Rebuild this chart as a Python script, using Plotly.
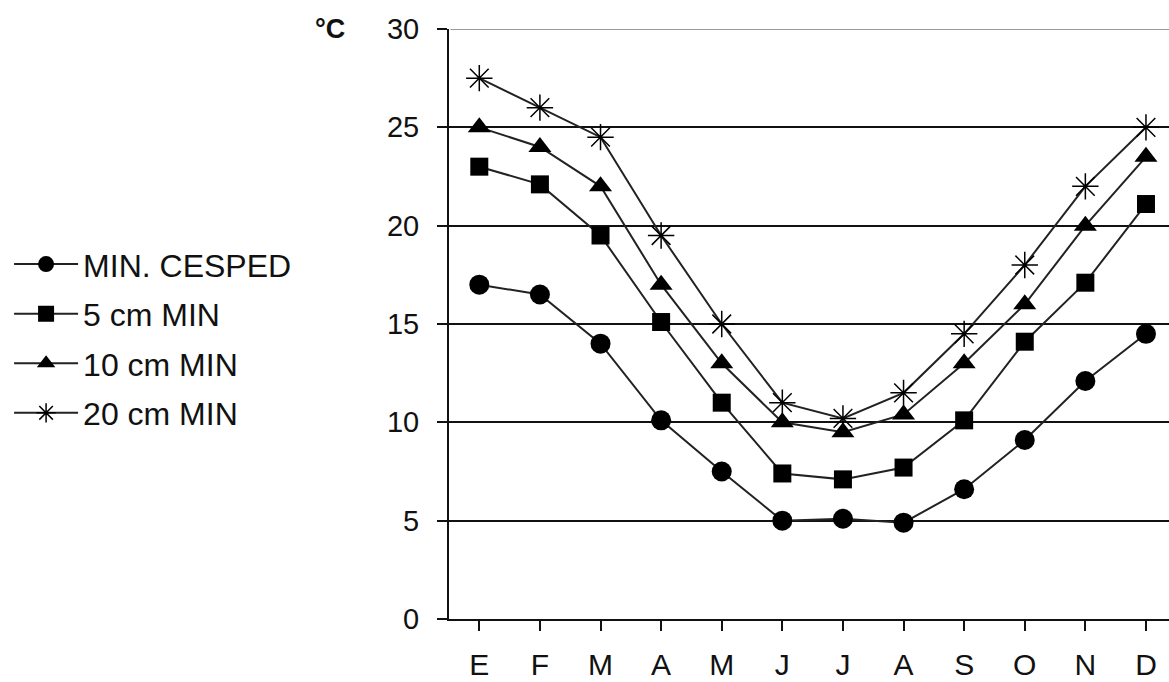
import plotly.graph_objects as go

months = ["E", "F", "M", "A", "M", "J", "J", "A", "S", "O", "N", "D"]
min_cesped = [17.0, 16.5, 14.0, 10.1, 7.5, 5.0, 5.1, 4.9, 6.6, 9.1, 12.1, 14.5]
cm5_min = [23.0, 22.1, 19.5, 15.1, 11.0, 7.4, 7.1, 7.7, 10.1, 14.1, 17.1, 21.1]
cm10_min = [25.0, 24.0, 22.0, 17.0, 13.0, 10.0, 9.5, 10.4, 13.0, 16.0, 20.0, 23.5]
cm20_min = [27.5, 26.0, 24.5, 19.5, 15.0, 11.0, 10.2, 11.5, 14.5, 18.0, 22.0, 25.0]
y_ticks = [0, 5, 10, 15, 20, 25, 30]

series = [
    ("MIN. CESPED", min_cesped, "circle", 20),
    ("5 cm MIN", cm5_min, "square", 18),
    ("10 cm MIN", cm10_min, "triangle-up", 20),
    ("20 cm MIN", cm20_min, "asterisk-open", 22),
]

xs = list(range(len(months)))
fig = go.Figure()
for i, (name, vals, sym, size) in enumerate(series):
    marker = dict(symbol=sym, size=size, color="black")
    if sym == "asterisk-open":
        marker["line"] = dict(color="#222", width=1.5)
    fig.add_trace(go.Scatter(
        x=xs, y=vals, name=name, mode="lines+markers",
        line=dict(color="#222", width=2), marker=marker,
        legendgroup=f"g{i}",
    ))

FONT = "Liberation Sans, Arial, sans-serif"
fig.update_layout(
    width=1169, height=682,
    margin=dict(l=449, r=0, t=29, b=63),
    paper_bgcolor="white", plot_bgcolor="white",
    font=dict(family=FONT, size=29, color="#111"),
    showlegend=True,
    legend=dict(x=-0.611, xanchor="left", y=0.475, yanchor="middle",
                font=dict(size=32, color="#111"), tracegroupgap=5,
                itemwidth=64, bgcolor="rgba(0,0,0,0)"),
    xaxis=dict(range=[-0.5, 11.38], tickmode="array", tickvals=xs, ticktext=months,
               tickson="boundaries", ticks="outside", ticklen=10, tickwidth=2,
               tickcolor="#111", showline=True, linecolor="#111", linewidth=2,
               showgrid=False, zeroline=False, ticklabelstandoff=8,
               automargin=False, tickfont=dict(size=30)),
    yaxis=dict(range=[0, 30], tickvals=y_ticks, ticks="outside", ticklen=10,
               tickwidth=2, tickcolor="#111", showline=True, linecolor="#111",
               linewidth=2, showgrid=True, gridcolor="#111", gridwidth=1.5,
               zeroline=False, ticklabelstandoff=12, automargin=False,
               tickfont=dict(size=29)),
    shapes=[
        dict(type="line", xref="paper", yref="y", x0=0.002, x1=1, y0=30, y1=30,
             line=dict(color="white", width=4), layer="above"),
        dict(type="line", xref="paper", yref="y", x0=0.002, x1=1, y0=30, y1=30,
             line=dict(color="#999", width=2), layer="above"),
    ],
    annotations=[dict(text="<b>°C</b>", xref="paper", yref="paper",
                      x=(330 - 449) / 720, y=1.0, xanchor="center", yanchor="middle",
                      showarrow=False, font=dict(size=27, color="#111"))],
)
fig.write_html("out.html", config={"displayModeBar": False},
               post_script="document.body.style.margin='0px';")
